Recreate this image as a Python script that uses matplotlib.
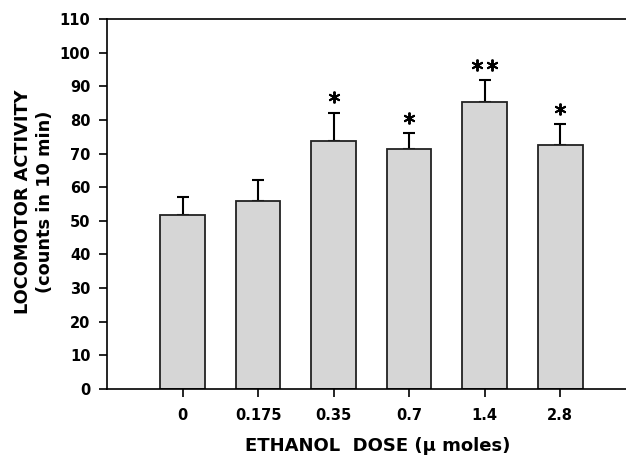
import matplotlib
matplotlib.use("Agg")
import matplotlib.pyplot as plt
import numpy as np

doses = ["0", "0.175", "0.35", "0.7", "1.4", "2.8"]
means = [51.6, 56.0, 73.6, 71.4, 85.4, 72.4]
sems = [5.5, 6.0, 8.6, 4.8, 6.5, 6.4]
stars = [0, 0, 1, 1, 2, 1]

plt.rcParams['font.family'] = ['DejaVu Sans']
plt.rcParams['font.weight'] = 'bold'

fig = plt.figure(figsize=(6.26, 4.55), dpi=100)
ax = fig.add_axes([107/626, 66/455, 1 - 107/626, 370/455])

x = np.arange(1, len(doses) + 1)
ax.bar(x, means, width=0.59, color='#d6d6d6', edgecolor='#222222', linewidth=1.3, zorder=2)
ax.errorbar(x, means, yerr=[np.zeros(len(sems)), sems], fmt='none', ecolor='black',
            elinewidth=1.5, capsize=4.2, capthick=1.5, zorder=1)

for xi, m, s, n in zip(x, means, sems, stars):
    if n == 0:
        continue
    y = m + s + 4.5
    offs = [0.0] if n == 1 else [-0.1, 0.1]
    for o in offs:
        ax.plot(xi + o, y, marker=(6, 2, 0), markersize=8.5, markeredgewidth=1.4,
                color='black', linestyle='none', zorder=3)

ax.set_xlim(0, 6.87)
ax.set_ylim(0, 110)
ax.set_yticks(np.arange(0, 111, 10))
ax.set_xticks(x)
ax.set_xticklabels(doses)
ax.tick_params(axis='both', direction='out', length=6, width=1.2, labelsize=10.5)
ax.tick_params(axis='x', pad=8)
ax.tick_params(axis='y', pad=6)
for lab in ax.get_xticklabels() + ax.get_yticklabels():
    lab.set_fontweight('bold')
ax.spines['right'].set_visible(False)
for sp in ['left', 'bottom', 'top']:
    ax.spines[sp].set_linewidth(1.2)

ax.set_xlabel("ETHANOL  DOSE (\u03bc moles)", fontsize=13, fontweight='bold',
              va='center', ha='center')
ax.xaxis.set_label_coords(0.522, -0.154)
ax.set_ylabel("LOCOMOTOR ACTIVITY\n(counts in 10 min)", fontsize=12.8, fontweight='bold',
              linespacing=1.3, va='center', ha='center')
ax.yaxis.set_label_coords(-0.1407, 0.505)

fig.savefig("out.png", dpi=100)
